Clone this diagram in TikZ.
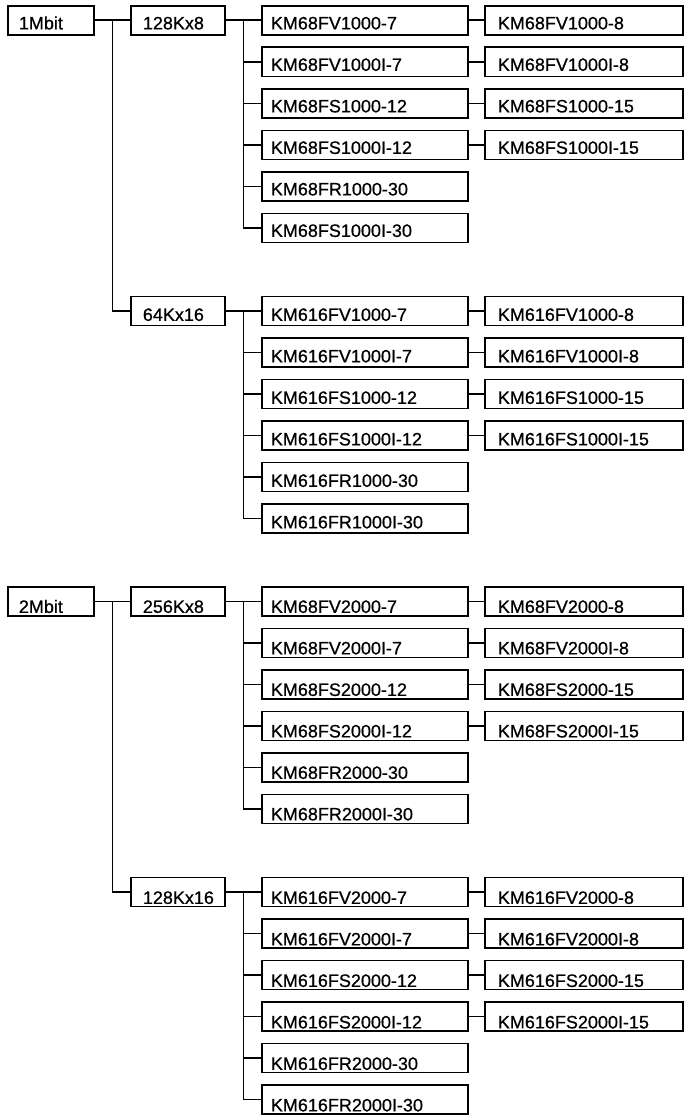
\documentclass[tikz,border=0pt]{standalone}
\usepackage{fontspec}
\setmainfont{Liberation Sans}[FakeBold=0.7]
\usetikzlibrary{calc}

\begin{document}
\begin{tikzpicture}[x=1pt, y=-1pt,
  box/.style={rectangle, draw, line width=1.8, anchor=north west, minimum height=29, inner ysep=0, align=left, text depth=0, font=\fontsize{18}{20}\selectfont},
  memsz/.style={box, inner xsep=11, text width=64},
  orgbox/.style={box, inner xsep=12, text width=70},
  chipbox/.style={box, inner xsep=9, text width=188},
  gradebox/.style={box, inner xsep=13, text width=172},
  link/.style={line width=1.8}
]
\useasboundingbox (0,0) rectangle (683,1116);

% Sizes and organisations
\node[memsz, text height=18] (m1) at (7,5) {1Mbit};
\node[orgbox, text height=18] (o1) at (130,5) {128Kx8};
\node[orgbox, text height=20] (o2) at (130,295.5) {64Kx16};
\node[memsz, text height=23] (m2) at (7,586) {2Mbit};
\node[orgbox, text height=23] (o3) at (130,586) {256Kx8};
\node[orgbox, text height=24] (o4) at (130,876.5) {128Kx16};

% 128Kx8
\foreach \nm [count=\i from 0] in {KM68FV1000-7, KM68FV1000I-7, KM68FS1000-12, KM68FS1000I-12, KM68FR1000-30, KM68FS1000I-30}
  \node[chipbox, text height=18] (a\i) at (261,{5+41.5*\i}) {\nm};
\foreach \nm [count=\i from 0] in {KM68FV1000-8, KM68FV1000I-8, KM68FS1000-15, KM68FS1000I-15}
  \node[gradebox, text height=18] (ax\i) at (484,{5+41.5*\i}) {\nm};

% 64Kx16
\foreach \nm [count=\i from 0] in {KM616FV1000-7, KM616FV1000I-7, KM616FS1000-12, KM616FS1000I-12, KM616FR1000-30, KM616FR1000I-30}
  \node[chipbox, text height=20] (b\i) at (261,{295.5+41.5*\i}) {\nm};
\foreach \nm [count=\i from 0] in {KM616FV1000-8, KM616FV1000I-8, KM616FS1000-15, KM616FS1000I-15}
  \node[gradebox, text height=20] (bx\i) at (484,{295.5+41.5*\i}) {\nm};

% 256Kx8
\foreach \nm [count=\i from 0] in {KM68FV2000-7, KM68FV2000I-7, KM68FS2000-12, KM68FS2000I-12, KM68FR2000-30, KM68FR2000I-30}
  \node[chipbox, text height=23] (c\i) at (261,{586+41.5*\i}) {\nm};
\foreach \nm [count=\i from 0] in {KM68FV2000-8, KM68FV2000I-8, KM68FS2000-15, KM68FS2000I-15}
  \node[gradebox, text height=23] (cx\i) at (484,{586+41.5*\i}) {\nm};

% 128Kx16
\foreach \nm [count=\i from 0] in {KM616FV2000-7, KM616FV2000I-7, KM616FS2000-12, KM616FS2000I-12, KM616FR2000-30, KM616FR2000I-30}
  \node[chipbox, text height=24] (d\i) at (261,{876.5+41.5*\i}) {\nm};
\foreach \nm [count=\i from 0] in {KM616FV2000-8, KM616FV2000I-8, KM616FS2000-15, KM616FS2000I-15}
  \node[gradebox, text height=24] (dx\i) at (484,{876.5+41.5*\i}) {\nm};

% Lines
\draw[link] (m1.east) -- (o1.west);
\coordinate (bus1) at ($(m1.east)!0.5!(o1.west)$);
\draw[link] (bus1) |- (o2.west);
\draw[link] (m2.east) -- (o3.west);
\coordinate (bus2) at ($(m2.east)!0.5!(o3.west)$);
\draw[link] (bus2) |- (o4.west);

\foreach \o/\g in {o1/a, o2/b, o3/c, o4/d} {
  \draw[link] (\o.east) -- (\g0.west);
  \coordinate (bus\g) at ($(\o.east)!0.5!(\g0.west)$);
  \foreach \i in {1,...,5}
    \draw[link] (bus\g) |- (\g\i.west);
  \foreach \i in {0,...,3}
    \draw[link] (\g\i.east) -- (\g x\i.west);
}
\end{tikzpicture}
\end{document}
